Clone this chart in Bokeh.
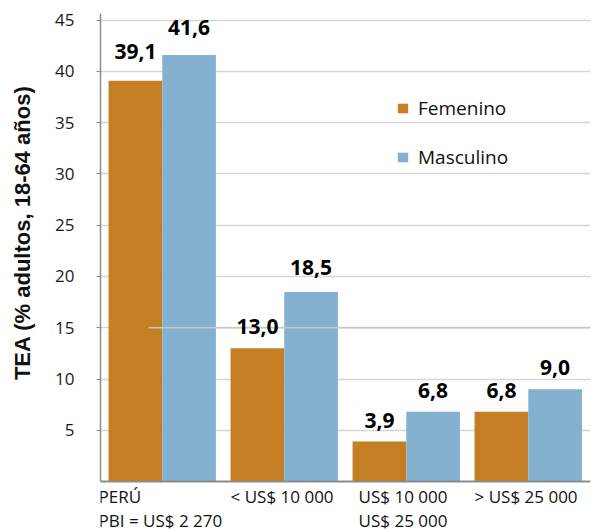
from bokeh.plotting import figure
from bokeh.models import (Range1d, FixedTicker, Legend, LegendItem, ColumnDataSource, Span)
from bokeh.core.properties import value
from bokeh.embed import file_html
from bokeh.resources import INLINE

# ---- data ----
categories = ["PERÚ\nPBI = US$ 2 270", "< US$ 10 000", "US$ 10 000\nUS$ 25 000", "> US$ 25 000"]
femenino = [39.1, 13.0, 3.9, 6.8]
masculino = [41.6, 18.5, 6.8, 9.0]
fem_labels = ["39,1", "13,0", "3,9", "6,8"]
mas_labels = ["41,6", "18,5", "6,8", "9,0"]
y_ticks = [5, 10, 15, 20, 25, 30, 35, 40, 45]
series_names = ["Femenino", "Masculino"]
y_title = "TEA (% adultos, 18-64 años)"

# ---- style ----
ORANGE = "#c47e24"
BLUE = "#85b1d0"
GRID = "#d6d6d6"
AXIS = "#8c8c8c"
FONT = "Open Sans"
BW = 0.44
Y_TOP = 45.65
Y_BOTTOM = -4.87
X_START, X_END = -0.066, 3.95
fem_lift = [-29, -22, -21, -21]
mas_lift = [-28, -24, -21, -22]
cat_offsets = [-10, 0, 6, 0]
TITLE_PAD = "\u00a0" * 13   # lifts the centred axis title a little

idx = list(range(len(categories)))
fem_x = [i + BW / 2 for i in idx]
mas_x = [i + 1.5 * BW for i in idx]

src_f = ColumnDataSource(dict(x=fem_x, top=femenino, lab=fem_labels, yo=fem_lift))
src_m = ColumnDataSource(dict(x=mas_x, top=masculino, lab=mas_labels, yo=mas_lift))
src_c = ColumnDataSource(dict(x=idx, y=[0] * len(idx), text=categories, xo=cat_offsets))

p = figure(width=593, height=531, output_backend="svg", toolbar_location=None,
           x_range=Range1d(X_START, X_END), y_range=Range1d(Y_BOTTOM, Y_TOP),
           min_border_left=100, min_border_right=3, min_border_top=13, min_border_bottom=0)
p.outline_line_color = None
p.background_fill_color = "white"
p.border_fill_color = "white"

# grid
p.xgrid.visible = False
p.ygrid.ticker = FixedTicker(ticks=y_ticks)
p.ygrid.grid_line_color = GRID
p.ygrid.grid_line_width = 1.5

# y axis
ya = p.yaxis[0]
ya.ticker = FixedTicker(ticks=y_ticks)
ya.bounds = (0, Y_TOP)
ya.axis_line_color = AXIS
ya.axis_line_width = 1.5
ya.major_tick_line_color = AXIS
ya.major_tick_out = 4
ya.major_tick_in = 0
ya.minor_tick_line_color = None
ya.major_label_text_font = FONT
ya.major_label_text_font_size = "17px"
ya.major_label_text_color = "#1a1a1a"
ya.major_label_standoff = 22
ya.axis_label = TITLE_PAD + y_title
ya.axis_label_text_font = "Liberation Sans"
ya.axis_label_text_font_style = "bold"
ya.axis_label_text_font_size = "22px"
ya.axis_label_text_color = "#111111"
ya.axis_label_standoff = 17

# x axis hidden; baseline drawn at zero
p.xaxis.visible = False
p.add_layout(Span(location=0, dimension="width", line_color=AXIS, line_width=2))

# bars
r_f = p.vbar(x="x", top="top", width=BW, bottom=0, source=src_f,
             fill_color=ORANGE, line_color=None)
r_m = p.vbar(x="x", top="top", width=BW, bottom=0, source=src_m,
             fill_color=BLUE, line_color=None)

# gridline segment at 15 drawn over the bars (as in the original)
p.segment(x0=[0.328], y0=[15], x1=[X_END], y1=[15], line_color="#c8c8c8", line_width=1.5)

# value labels
for src in (src_f, src_m):
    p.text(x="x", y="top", text="lab", source=src, text_align="center",
           text_baseline="alphabetic", y_offset="yo",
           text_font=value(FONT), text_font_style="bold", text_font_size="21px",
           text_color="black")

# category labels (left aligned, two lines) below the baseline
p.text(x="x", y="y", text="text", source=src_c, x_offset="xo", y_offset=3,
       text_align="left", text_baseline="top",
       text_font=value(FONT), text_font_size="17px", text_color="#111111",
       text_line_height=1.05)

# legend
legend = Legend(items=[LegendItem(label=series_names[0], renderers=[r_f]),
                       LegendItem(label=series_names[1], renderers=[r_m])],
                location=(296, 361), orientation="vertical",
                background_fill_alpha=0, border_line_color=None,
                glyph_width=13, glyph_height=12, label_standoff=9,
                label_text_font=FONT, label_text_font_size="19px",
                label_text_color="#111111",
                spacing=23, padding=0, margin=0)
p.add_layout(legend, "center")

open("out.html", "w").write(file_html(p, INLINE))
